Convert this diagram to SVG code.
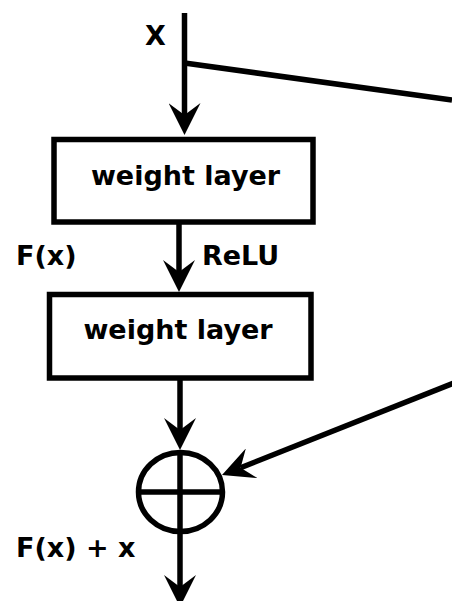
<svg xmlns="http://www.w3.org/2000/svg" width="452" height="601" viewBox="0 0 452 601">
<style>
.ln{stroke:#000;stroke-width:5.5;fill:none}
.bx{stroke:#000;stroke-width:5.5;fill:#fff}
.t{font-family:"DejaVu Sans","Liberation Sans",sans-serif;font-weight:bold;font-size:27px;fill:#000}
</style>
<defs>
<marker id="ah" viewBox="0 0 32 32" markerWidth="32" markerHeight="32" markerUnits="userSpaceOnUse" refX="12" refY="16" orient="auto">
<path d="M0,0 L32,16 L0,32 L12,16 Z" fill="#000"/>
</marker>
</defs>
<rect width="452" height="601" fill="#fff"/>
<g id="connectors">
<path class="ln" d="M184.5,13 V115" marker-end="url(#ah)"/>
<path class="ln" d="M184.5,63 L452,100"/>
<path class="ln" d="M179,222 V272" marker-end="url(#ah)"/>
<path class="ln" d="M180,378 V430" marker-end="url(#ah)"/>
<path class="ln" d="M180,530 V587" marker-end="url(#ah)"/>
<path class="ln" d="M454,383 L240.6,467.7" marker-end="url(#ah)"/>
</g>
<g id="label-x"><text class="t" x="145" y="45">X</text></g>
<g id="weight1">
<rect class="bx" x="54" y="139.5" width="259" height="82.5"/>
<text class="t" x="185.5" y="185" text-anchor="middle">weight layer</text>
</g>
<g id="label-fx"><text class="t" x="16" y="265">F(x)</text></g>
<g id="label-relu"><text class="t" x="202" y="265">ReLU</text></g>
<g id="weight2">
<rect class="bx" x="49.5" y="294.5" width="261.5" height="83.5"/>
<text class="t" x="178" y="339" text-anchor="middle">weight layer</text>
</g>
<g id="sum">
<ellipse class="ln" cx="180.5" cy="492" rx="42" ry="39.5"/>
<path class="ln" d="M138.5,492 H222.5 M180,452 V532"/>
</g>
<g id="label-out"><text class="t" x="16" y="557">F(x) + x</text></g>
</svg>
